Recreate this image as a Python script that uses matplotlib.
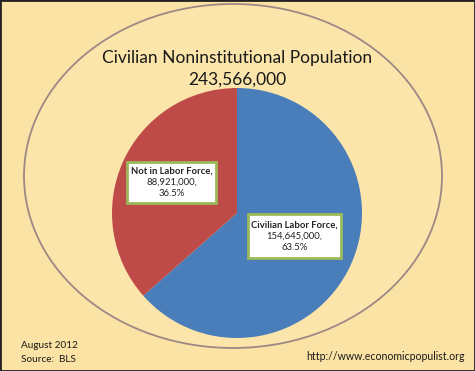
import matplotlib
matplotlib.use("Agg")
import matplotlib.pyplot as plt
from matplotlib.patches import Ellipse, Rectangle

# data
labels = ["Civilian Labor Force", "Not in Labor Force"]
values = [154645000, 88921000]
pcts = [63.5, 36.5]
colors = ["#4A7EBB", "#BE4B48"]
total = 243566000
title = "Civilian Noninstitutional Population"
note_lines = ["August 2012", "Source:  BLS"]
url = "http://www.economicpopulist.org"

plt.rcParams["font.family"] = ["Lato", "DejaVu Sans"]

W, H = 475, 371
bg = "#FAE3A4"
fig = plt.figure(figsize=(W / 100, H / 100), dpi=100, facecolor=bg)
ax = fig.add_axes([0, 0, 1, 1])

# outer ellipse
ax.add_patch(Ellipse((233, H - 176), 418, 344, facecolor="#FBE5AA",
                     edgecolor="#9E8886", lw=1.3, zorder=1))

# pie
ax.pie(values, colors=colors, startangle=90, counterclock=False,
       center=(237, H - 213), radius=125, frame=True,
       wedgeprops=dict(linewidth=0))
ax.set_xlim(0, W)
ax.set_ylim(0, H)
ax.axis("off")

# title
ax.text(237, H - 58, title, ha="center", va="center", fontsize=12.5, color="#1a1a1a")
ax.text(237, H - 80, f"{total:,}", ha="center", va="center", fontsize=12.5, color="#1a1a1a")

# data labels: boxes (x0, y0 top, width, height) in pixels
boxes = [(248, 214, 93, 44), (127, 162, 89, 41)]
for lab, v, p, (bx, by, bw, bh) in zip(labels, values, pcts, boxes):
    ax.add_patch(Rectangle((bx, H - by - bh), bw, bh, facecolor="white",
                           edgecolor="#9BBB59", lw=2, zorder=3))
    cx = bx + bw / 2
    cy = by + bh / 2
    lines = [f"{lab},", f"{v:,},", f"{p}%"]
    for i, line in enumerate(lines):
        ax.text(cx, H - (cy + (i - 1) * 11), line, ha="center", va="center",
                fontsize=6.8, fontweight="bold" if i == 0 else "normal",
                color="#222222", zorder=4)

# footer
ax.text(21, H - 345, note_lines[0], ha="left", va="center", fontsize=7.2, color="#1a1a1a")
ax.text(21, H - 360, note_lines[1], ha="left", va="center", fontsize=7.2, color="#1a1a1a")
ax.text(465, H - 356, url, ha="right", va="center", fontsize=7.6, color="#1a1a1a")

# border
fig.patches.append(plt.Rectangle((0, 0), 1, 1, transform=fig.transFigure, fill=False,
                                 edgecolor="#222222", lw=2))

fig.savefig("out.png", dpi=100, facecolor=bg)
